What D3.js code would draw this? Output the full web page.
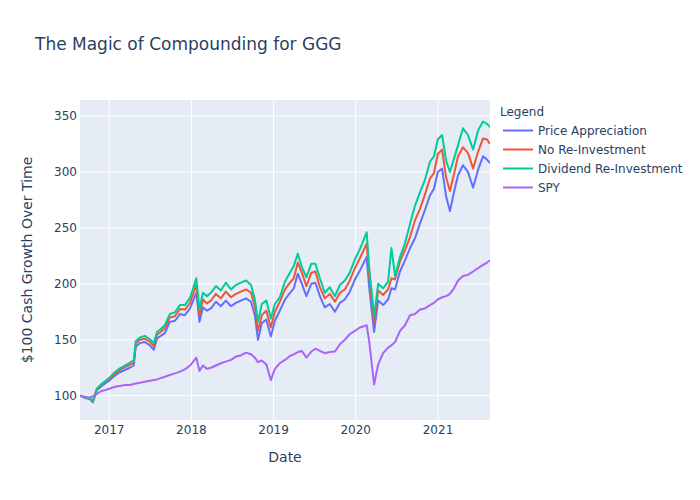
<!DOCTYPE html>
<html>
<head>
<meta charset="utf-8">
<script src="https://cdn.jsdelivr.net/npm/d3@7"></script>
<style>
  body { margin: 0; background: #fff; }
  text { font-family: "DejaVu Sans", Verdana, sans-serif; fill: #2a3f5f; }
</style>
</head>
<body>
<div id="chart"></div>
<script>
// dates of the sampled points
const dates = [
  '2016-08-24', '2016-09-15', '2016-10-07', '2016-10-20', '2016-11-07', '2016-11-25', '2016-12-13',
  '2017-01-04', '2017-01-26', '2017-02-17', '2017-03-11', '2017-04-03', '2017-04-20', '2017-04-29', '2017-05-17', '2017-06-08', '2017-07-01', '2017-07-18', '2017-08-01', '2017-08-14', '2017-09-05', '2017-09-27', '2017-10-20', '2017-11-11', '2017-12-03', '2017-12-26',
  '2018-01-23', '2018-02-06', '2018-02-21', '2018-03-11', '2018-03-29', '2018-04-20', '2018-05-12', '2018-06-03', '2018-06-26', '2018-07-18', '2018-08-09', '2018-09-01', '2018-09-23', '2018-10-10', '2018-10-24', '2018-11-10', '2018-11-30', '2018-12-20',
  '2019-01-07', '2019-01-29', '2019-02-21', '2019-03-15', '2019-04-01', '2019-04-19', '2019-05-07', '2019-05-27', '2019-06-18', '2019-07-06', '2019-07-26', '2019-08-17', '2019-09-08', '2019-10-01', '2019-10-23', '2019-11-14', '2019-12-06', '2019-12-29',
  '2020-01-20', '2020-02-19', '2020-03-01', '2020-03-23', '2020-04-10', '2020-05-02', '2020-05-24', '2020-06-08', '2020-06-24', '2020-07-16', '2020-08-07', '2020-08-30', '2020-09-21', '2020-10-13', '2020-11-04', '2020-11-26', '2020-12-14', '2020-12-31',
  '2021-01-19', '2021-02-06', '2021-02-23', '2021-03-13', '2021-03-31', '2021-04-22', '2021-05-14', '2021-06-06', '2021-06-28', '2021-07-20', '2021-08-07', '2021-08-20'
];

const priceAppreciation = [
  100, 98, 97, 94, 105, 108, 111,
  114, 118, 121, 123, 125, 127, 144, 147, 148, 145, 141, 151, 153, 156, 166, 167, 173, 172, 178,
  192, 166, 179, 176, 178, 184, 180, 185, 180, 183, 185, 187, 184, 172, 150, 165, 168, 153,
  167, 176, 186, 192, 196, 209, 200, 189, 200, 201, 189, 179, 182, 175, 183, 186, 193, 204,
  212, 224, 197, 157, 185, 181, 186, 196, 195, 211, 221, 232, 241, 254, 266, 279, 285, 300,
  303, 278, 265, 282, 297, 306, 300, 286, 302, 314, 311, 308
];

const noReinvestment = [
  100, 98.5, 97.5, 95, 106, 109, 112.5,
  115.5, 119.5, 123, 125.5, 127.5, 129.5, 147, 150, 151, 148, 144.5, 154.5, 156.5, 160, 170, 171, 177.5, 177, 183,
  199, 172, 186, 182.5, 185, 191, 187, 193, 188, 191, 193, 195, 192, 180, 158, 172, 176, 161,
  175, 184, 195, 201, 205, 219, 210, 198, 210, 211, 197, 187, 191, 184, 192, 195, 203, 214,
  223, 236, 207, 165, 194, 190, 195, 205, 204, 220, 230, 242, 257, 267, 280, 294, 299, 316,
  320, 295, 283, 298, 314, 322, 317, 303, 318, 330, 329, 325
];

const dividendReinvestment = [
  100, 98.5, 97.5, 95, 106.5, 110, 113,
  116.5, 121, 124.5, 127, 129.5, 131.5, 149, 152, 153.5, 150.5, 147, 157, 159, 163, 173, 174.5, 181, 181, 187.5,
  205, 177, 192, 189, 192, 198, 194, 201, 195, 199, 201, 203, 199, 186, 166, 182, 185, 169,
  182, 188, 202, 210, 216, 227, 215, 206, 218, 218, 205, 192, 197, 189, 199, 203, 210, 222,
  231, 246, 215, 171, 200, 196, 202, 232, 207, 224, 236, 254, 270, 282, 293, 309, 314, 329,
  333, 310, 300, 312, 324, 339, 333, 320, 337, 345, 343, 340
];

const spy = [
  100, 99, 98.5, 99.5, 101.5, 104, 105,
  106.5, 108, 108.7, 109.5, 109.6, 110.5, 111, 111.6, 112.5, 113.4, 114, 114.5, 115.5, 117, 118.5, 120, 121.5, 123.5, 127,
  134, 122, 127, 124, 125, 127, 129, 130.5, 132, 135, 136, 138.5, 137, 134, 130, 131.5, 128, 114,
  124, 129, 132, 135.5, 137, 139, 140, 134, 139.5, 142, 140, 138, 139, 139.5, 146, 150, 155, 158,
  161, 163, 149, 110, 128, 138, 143, 145, 148, 158, 163, 172, 173, 177, 178, 181, 183, 186,
  188, 189, 191, 196, 203, 207, 208, 211, 214, 217, 219, 221
];

const seriesNames = ['Price Appreciation', 'No Re-Investment', 'Dividend Re-Investment', 'SPY'];
const seriesColors = ['#636efa', '#EF553B', '#00cc96', '#ab63fa'];
const seriesValues = [priceAppreciation, noReinvestment, dividendReinvestment, spy];
const yTicks = [100, 150, 200, 250, 300, 350];
const xTickYears = [2017, 2018, 2019, 2020, 2021];

const width = 700, height = 500;
const margin = { left: 80, right: 210, top: 100, bottom: 80 };
const parse = d3.timeParse('%Y-%m-%d');
const dateObjs = dates.map(parse);

const svg = d3.select('#chart').append('svg')
  .attr('width', width)
  .attr('height', height);

const x = d3.scaleTime()
  .domain(d3.extent(dateObjs))
  .range([margin.left, width - margin.right]);

const y = d3.scaleLinear()
  .domain([78.3, 364.3])
  .range([height - margin.bottom, margin.top]);

// plot background
svg.append('rect')
  .attr('x', margin.left)
  .attr('y', margin.top)
  .attr('width', width - margin.left - margin.right)
  .attr('height', height - margin.top - margin.bottom)
  .attr('fill', '#E5ECF6');

// grid lines
svg.append('g')
  .selectAll('line')
  .data(yTicks)
  .enter().append('line')
  .attr('x1', margin.left)
  .attr('x2', width - margin.right)
  .attr('y1', d => y(d))
  .attr('y2', d => y(d))
  .attr('stroke', '#fff')
  .attr('stroke-width', 1);

const xTicks = xTickYears.map(yr => new Date(yr, 0, 1));
svg.append('g')
  .selectAll('line')
  .data(xTicks)
  .enter().append('line')
  .attr('x1', d => x(d))
  .attr('x2', d => x(d))
  .attr('y1', margin.top)
  .attr('y2', height - margin.bottom)
  .attr('stroke', '#fff')
  .attr('stroke-width', 1);

// tick labels
svg.append('g')
  .selectAll('text')
  .data(yTicks)
  .enter().append('text')
  .attr('x', margin.left - 3)
  .attr('y', d => y(d))
  .attr('dy', '0.35em')
  .attr('text-anchor', 'end')
  .style('font-size', '12px')
  .text(d => d);

svg.append('g')
  .selectAll('text')
  .data(xTicks)
  .enter().append('text')
  .attr('x', d => x(d))
  .attr('y', height - margin.bottom + 13.5)
  .attr('text-anchor', 'middle')
  .style('font-size', '12px')
  .text(d => d.getFullYear());

// clip to plot area
svg.append('clipPath')
  .attr('id', 'plotclip')
  .append('rect')
  .attr('x', margin.left)
  .attr('y', margin.top)
  .attr('width', width - margin.left - margin.right)
  .attr('height', height - margin.top - margin.bottom);

const line = d3.line()
  .x((d, i) => x(dateObjs[i]))
  .y(d => y(d));

svg.append('g')
  .attr('clip-path', 'url(#plotclip)')
  .selectAll('path')
  .data(seriesValues)
  .enter().append('path')
  .attr('d', d => line(d))
  .attr('fill', 'none')
  .attr('stroke', (d, i) => seriesColors[i])
  .attr('stroke-width', 2)
  .attr('stroke-linejoin', 'round');

// titles
svg.append('text')
  .attr('x', 35)
  .attr('y', 49.5)
  .style('font-size', '17px')
  .text('The Magic of Compounding for GGG');

svg.append('text')
  .attr('x', (margin.left + width - margin.right) / 2)
  .attr('y', 461.5)
  .attr('text-anchor', 'middle')
  .style('font-size', '14px')
  .text('Date');

svg.append('text')
  .attr('transform', `translate(27,${(margin.top + height - margin.bottom) / 2}) rotate(-90)`)
  .attr('dy', '0.35em')
  .attr('text-anchor', 'middle')
  .style('font-size', '14px')
  .text('$100 Cash Growth Over Time');

// legend
const legend = svg.append('g');
legend.append('text')
  .attr('x', 500)
  .attr('y', 116)
  .style('font-size', '12px')
  .text('Legend');

const items = legend.selectAll('g.item')
  .data(seriesNames)
  .enter().append('g')
  .attr('class', 'item')
  .attr('transform', (d, i) => `translate(0,${130.5 + i * 19})`);

items.append('line')
  .attr('x1', 503)
  .attr('x2', 533)
  .attr('stroke', (d, i) => seriesColors[i])
  .attr('stroke-width', 2);

items.append('text')
  .attr('x', 538)
  .attr('dy', '0.35em')
  .style('font-size', '12px')
  .text(d => d);
</script>
</body>
</html>
